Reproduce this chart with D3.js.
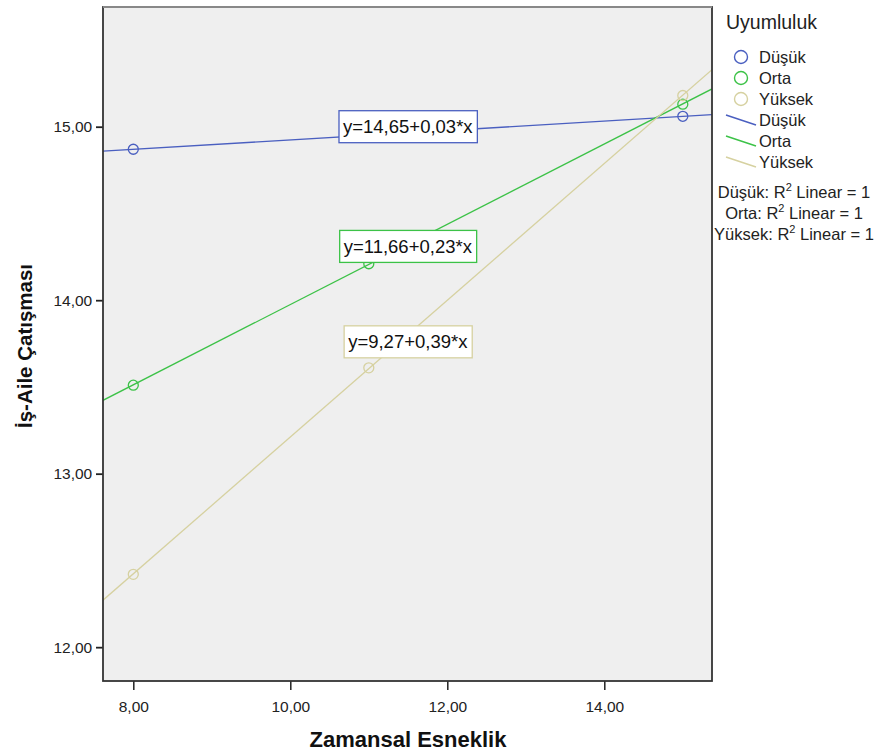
<!DOCTYPE html>
<html><head><meta charset="utf-8">
<script src="https://cdn.jsdelivr.net/npm/d3@7"></script>
<style>body{margin:0;background:#fff;font-family:Arial,"Liberation Sans",sans-serif}</style>
</head><body>
<script>
const groups = ["Düşük", "Orta", "Yüksek"];
const colors = ["#4a5fc0", "#3cc247", "#d6d1a0"];
const xValues = [8, 11, 15];
const dusukY = [14.87, 14.95, 15.06];
const ortaY = [13.51, 14.21, 15.13];
const yuksekY = [12.42, 13.61, 15.18];
const equations = ["y=14,65+0,03*x", "y=11,66+0,23*x", "y=9,27+0,39*x"];
const equationAnchorX = [11, 11, 11];
const equationAnchorY = [15.0, 14.31, 13.76];
const xTicks = [8, 10, 12, 14];
const yTicks = [12, 13, 14, 15];

const series = [dusukY, ortaY, yuksekY];
const W = 877, H = 753;
const m = {l:103, r:712, t:7, b:681};
const svg = d3.select("body").append("svg").attr("width", W).attr("height", H);

const x = d3.scaleLinear().domain([7.614, 15.372]).range([m.l, m.r]);
const y = d3.scaleLinear().domain([11.805, 15.69]).range([m.b, m.t]);

svg.append("rect").attr("x", m.l).attr("y", m.t).attr("width", m.r - m.l).attr("height", m.b - m.t)
  .attr("fill", "#efefef");

const fmt = d => d.toFixed(2).replace(".", ",");

// axes
const gx = svg.append("g").attr("transform", `translate(0,${m.b})`)
  .call(d3.axisBottom(x).tickValues(xTicks).tickFormat(fmt).tickSize(9).tickSizeOuter(0));
gx.select(".domain").remove();
gx.selectAll("line").attr("stroke", "#222").attr("stroke-width", 1.5);
gx.selectAll("text").attr("font-size", 15.5).attr("fill", "#222").attr("dy", "1.2em");

const gy = svg.append("g").attr("transform", `translate(${m.l},0)`)
  .call(d3.axisLeft(y).tickValues(yTicks).tickFormat(fmt).tickSize(7).tickSizeOuter(0));
gy.select(".domain").remove();
gy.selectAll("line").attr("stroke", "#222").attr("stroke-width", 1.8);
gy.selectAll("text").attr("font-size", 15.5).attr("fill", "#222").attr("dx", "-0.05em");

const clip = svg.append("clipPath").attr("id", "c").append("rect")
  .attr("x", m.l).attr("y", m.t).attr("width", m.r - m.l).attr("height", m.b - m.t);
const plot = svg.append("g").attr("clip-path", "url(#c)");

// regression lines (least squares from points)
series.forEach((ys, i) => {
  const mx = d3.mean(xValues), my = d3.mean(ys);
  const b = d3.sum(xValues, (xv, k) => (xv - mx) * (ys[k] - my)) / d3.sum(xValues, xv => (xv - mx) ** 2);
  const a = my - b * mx;
  const [x0, x1] = x.domain();
  plot.append("line").attr("x1", x(x0)).attr("y1", y(a + b * x0)).attr("x2", x(x1)).attr("y2", y(a + b * x1))
    .attr("stroke", colors[i]).attr("stroke-width", 1.3);
});
// points
series.forEach((ys, i) => {
  plot.selectAll(null).data(xValues).enter().append("circle")
    .attr("cx", d => x(d)).attr("cy", (d, k) => y(ys[k])).attr("r", 5)
    .attr("fill", "none").attr("stroke", colors[i]).attr("stroke-width", 1.3);
});

// equation labels
equations.forEach((t, i) => {
  const cx = x(equationAnchorX[i]) + 39, cy = y(equationAnchorY[i]);
  const g = svg.append("g");
  const txt = g.append("text").attr("x", cx).attr("y", cy).attr("text-anchor", "middle")
    .attr("dominant-baseline", "central").attr("font-size", 18.5).attr("fill", "#111").text(t);
  const bb = txt.node().getBBox();
  g.insert("rect", "text").attr("x", bb.x - 4).attr("y", cy - 16).attr("width", bb.width + 8).attr("height", 32)
    .attr("fill", "#fff").attr("stroke", colors[i]).attr("stroke-width", 1.3);
});

// frame
svg.append("rect").attr("x", m.l).attr("y", m.t).attr("width", m.r - m.l).attr("height", m.b - m.t)
  .attr("fill", "none").attr("stroke", "#333").attr("stroke-width", 1.8);
svg.append("line").attr("x1", m.l).attr("x2", m.r).attr("y1", m.t).attr("y2", m.t)
  .attr("stroke", "#888").attr("stroke-width", 2);

// axis titles
svg.append("text").attr("x", 408).attr("y", 747).attr("text-anchor", "middle")
  .attr("font-size", 22).attr("font-weight", "bold").attr("fill", "#111").text("Zamansal Esneklik");
svg.append("text").attr("transform", `translate(32,346) rotate(-90)`).attr("text-anchor", "middle")
  .attr("font-size", 20.5).attr("font-weight", "bold").attr("fill", "#111").text("İş-Aile Çatışması");

// legend
const lg = svg.append("g").attr("fill", "#222");
lg.append("text").attr("x", 726).attr("y", 29).attr("font-size", 19.5).text("Uyumluluk");
groups.forEach((gname, i) => {
  const yy = 57 + i * 21;
  lg.append("circle").attr("cx", 741).attr("cy", yy).attr("r", 6.5).attr("fill", "none")
    .attr("stroke", colors[i]).attr("stroke-width", 1.4);
  lg.append("text").attr("x", 759).attr("y", yy + 6).attr("font-size", 16.5).text(gname);
});
groups.forEach((gname, i) => {
  const yy = 120 + i * 21;
  lg.append("line").attr("x1", 726).attr("y1", yy - 5).attr("x2", 756).attr("y2", yy + 5)
    .attr("stroke", colors[i]).attr("stroke-width", 1.4);
  lg.append("text").attr("x", 759).attr("y", yy + 6).attr("font-size", 16.5).text(gname);
});
groups.forEach((gname, i) => {
  const t = lg.append("text").attr("x", 794).attr("y", 198 + i * 21).attr("text-anchor", "middle").attr("font-size", 16.5);
  t.append("tspan").text(gname + ": R");
  t.append("tspan").attr("dy", -7).attr("font-size", 11).text("2");
  t.append("tspan").attr("dy", 7).text(" Linear = 1");
});
</script>
</body></html>
